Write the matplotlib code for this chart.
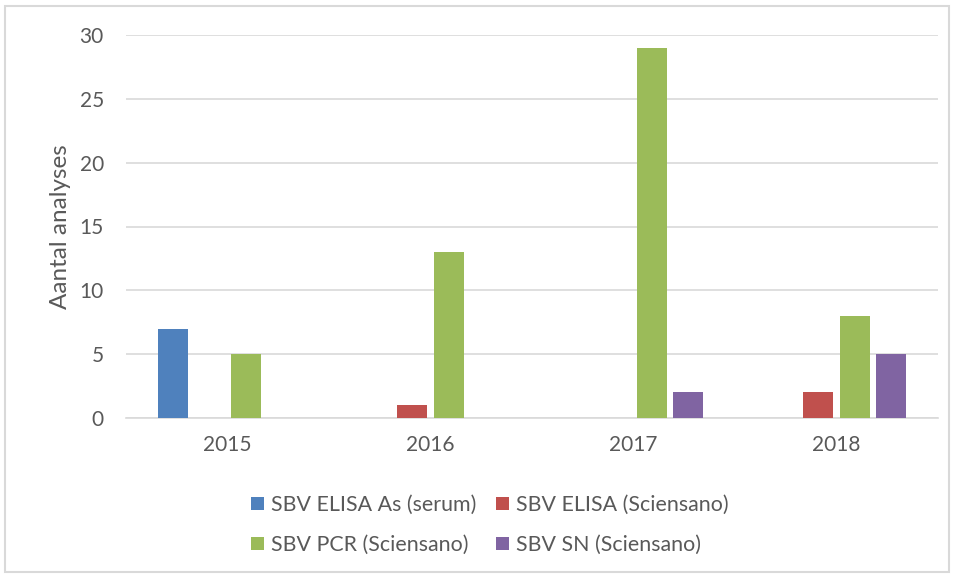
import numpy as np
import matplotlib
matplotlib.use('Agg')
import matplotlib.pyplot as plt
from matplotlib.patches import Rectangle

# ============================================================
# DATA
# ============================================================
years = ['2015', '2016', '2017', '2018']
series_names = ['SBV ELISA As (serum)', 'SBV ELISA (Sciensano)',
                'SBV PCR (Sciensano)', 'SBV SN (Sciensano)']
elisa_as = [7, 0, 0, 0]
elisa_sciensano = [0, 1, 0, 2]
pcr_sciensano = [5, 13, 29, 8]
sn_sciensano = [0, 0, 2, 5]
colors = ['#4F81BD', '#C0504D', '#9BBB59', '#8064A2']

plt.rcParams['font.family'] = ['Lato', 'DejaVu Sans']
txt = '#595959'
grid_c = '#D9D9D9'

# ============================================================
# FIGURE
# ============================================================
fig = plt.figure(figsize=(9.54, 5.77), dpi=100)
W, H = 954, 577
ax = fig.add_axes([126 / W, 1 - 418 / H, (938 - 126) / W, (418 - 35) / H])

x = np.arange(len(years))
offsets = [-0.27, -0.09, 0.09, 0.27]
bw = 0.148
for vals, off, col, name in zip([elisa_as, elisa_sciensano, pcr_sciensano, sn_sciensano],
                                offsets, colors, series_names):
    ax.bar(x + off, vals, width=bw, color=col, label=name, zorder=3)

ax.set_xlim(-0.5, 3.5)
ax.set_ylim(0, 30)
ax.set_yticks(range(0, 31, 5))
ax.set_xticks(x)
ax.set_xticklabels(years)
ax.tick_params(length=0, labelsize=15, colors=txt)
ax.tick_params(axis='x', pad=12)
ax.tick_params(axis='y', pad=16)
ax.grid(axis='y', color=grid_c, linewidth=1.2, zorder=0)
for s in ['top', 'right', 'left']:
    ax.spines[s].set_visible(False)
ax.spines['bottom'].set_color(grid_c)
ax.spines['bottom'].set_linewidth(1.2)
ax.set_ylabel('Aantal analyses', fontsize=17.5, color=txt, labelpad=6)

handles, labels = ax.get_legend_handles_labels()
order = [0, 2, 1, 3]
fig.legend([handles[i] for i in order], [labels[i] for i in order],
           ncol=2, loc='center', bbox_to_anchor=(490 / W, 1 - 525 / H),
           frameon=False, fontsize=15.4, labelcolor=txt,
           handlelength=0.6, handleheight=0.6, handletextpad=0.35,
           columnspacing=0.9, labelspacing=0.95)

fig.patches.append(Rectangle((5 / W, 5 / H), 944 / W, 566 / H, transform=fig.transFigure,
                             fill=False, edgecolor=grid_c, linewidth=1.5))

plt.savefig('out.png', dpi=100)
